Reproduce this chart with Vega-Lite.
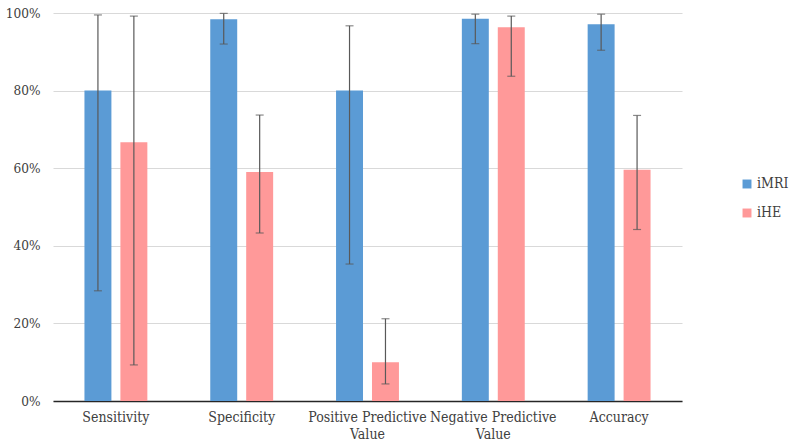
{
  "$schema": "https://vega.github.io/schema/vega-lite/v6.json",
  "width": 629,
  "height": 388,
  "autosize": {"type": "none"},
  "padding": {"left": 53, "top": 13, "right": 108, "bottom": 42},
  "background": "white",
  "config": {
    "view": {"stroke": null},
    "font": "'DejaVu Serif Condensed', 'DejaVu Serif', serif",
    "axis": {"labelFont": "'DejaVu Serif Condensed', 'DejaVu Serif', serif"},
    "legend": {"labelFont": "'DejaVu Serif Condensed', 'DejaVu Serif', serif"}
  },
  "data": {
    "values": [
      {"measure": "Sensitivity", "method": "iMRI", "value": 0.80, "lo": 0.284, "hi": 0.995},
      {"measure": "Sensitivity", "method": "iHE", "value": 0.667, "lo": 0.093, "hi": 0.992},
      {"measure": "Specificity", "method": "iMRI", "value": 0.984, "lo": 0.92, "hi": 0.999},
      {"measure": "Specificity", "method": "iHE", "value": 0.59, "lo": 0.433, "hi": 0.737},
      {"measure": "Positive Predictive Value", "method": "iMRI", "value": 0.80, "lo": 0.353, "hi": 0.967},
      {"measure": "Positive Predictive Value", "method": "iHE", "value": 0.10, "lo": 0.044, "hi": 0.212},
      {"measure": "Negative Predictive Value", "method": "iMRI", "value": 0.985, "lo": 0.921, "hi": 0.997},
      {"measure": "Negative Predictive Value", "method": "iHE", "value": 0.963, "lo": 0.837, "hi": 0.992},
      {"measure": "Accuracy", "method": "iMRI", "value": 0.971, "lo": 0.904, "hi": 0.997},
      {"measure": "Accuracy", "method": "iHE", "value": 0.596, "lo": 0.442, "hi": 0.736}
    ]
  },
  "encoding": {
    "x": {
      "field": "measure",
      "type": "nominal",
      "sort": ["Sensitivity", "Specificity", "Positive Predictive Value", "Negative Predictive Value", "Accuracy"],
      "scale": {"paddingInner": 0.5, "paddingOuter": 0.25},
      "axis": {
        "title": null,
        "labelAngle": 0,
        "labelFontSize": 14,
        "labelColor": "#404040",
        "labelPadding": 9,
        "labelOverlap": false,
        "ticks": false,
        "domain": true,
        "domainColor": "#262626",
        "domainWidth": 1.5,
        "labelExpr": "datum.label == 'Positive Predictive Value' ? ['Positive Predictive', 'Value'] : datum.label == 'Negative Predictive Value' ? ['Negative Predictive', 'Value'] : datum.label",
        "labelLineHeight": 17
      }
    },
    "xOffset": {
      "field": "method",
      "type": "nominal",
      "sort": ["iMRI", "iHE"],
      "scale": {"paddingInner": 0.25, "paddingOuter": 0}
    }
  },
  "layer": [
    {
      "mark": {"type": "bar"},
      "encoding": {
        "y": {
          "field": "value",
          "type": "quantitative",
          "scale": {"domain": [0, 1]},
          "axis": {
            "title": null,
            "format": ".0%",
            "values": [0, 0.2, 0.4, 0.6, 0.8, 1],
            "labelFontSize": 13.5,
            "labelColor": "#404040",
            "labelPadding": 13,
            "labelOverlap": false,
            "labelFlush": false,
            "labelBound": false,
            "ticks": false,
            "domain": false,
            "grid": true,
            "gridColor": "#D9D9D9",
            "gridWidth": 1
          }
        },
        "color": {
          "field": "method",
          "type": "nominal",
          "sort": ["iMRI", "iHE"],
          "scale": {"domain": ["iMRI", "iHE"], "range": ["#5B9BD5", "#FF9999"]},
          "legend": {
            "title": null,
            "orient": "none",
            "legendX": 687,
            "legendY": 164,
            "padding": 0,
            "symbolType": "square",
            "symbolSize": 80,
            "symbolStrokeWidth": 0,
            "labelFontSize": 14,
            "labelColor": "#404040",
            "labelOffset": 3,
            "rowPadding": 15
          }
        }
      }
    },
    {
      "mark": {"type": "rule", "color": "#595959", "strokeWidth": 1.2},
      "encoding": {
        "y": {"field": "lo", "type": "quantitative"},
        "y2": {"field": "hi"}
      }
    },
    {
      "mark": {"type": "tick", "color": "#595959", "size": 8, "thickness": 1.2, "orient": "horizontal"},
      "encoding": {
        "y": {"field": "lo", "type": "quantitative"}
      }
    },
    {
      "mark": {"type": "tick", "color": "#595959", "size": 8, "thickness": 1.2, "orient": "horizontal"},
      "encoding": {
        "y": {"field": "hi", "type": "quantitative"}
      }
    }
  ]
}
